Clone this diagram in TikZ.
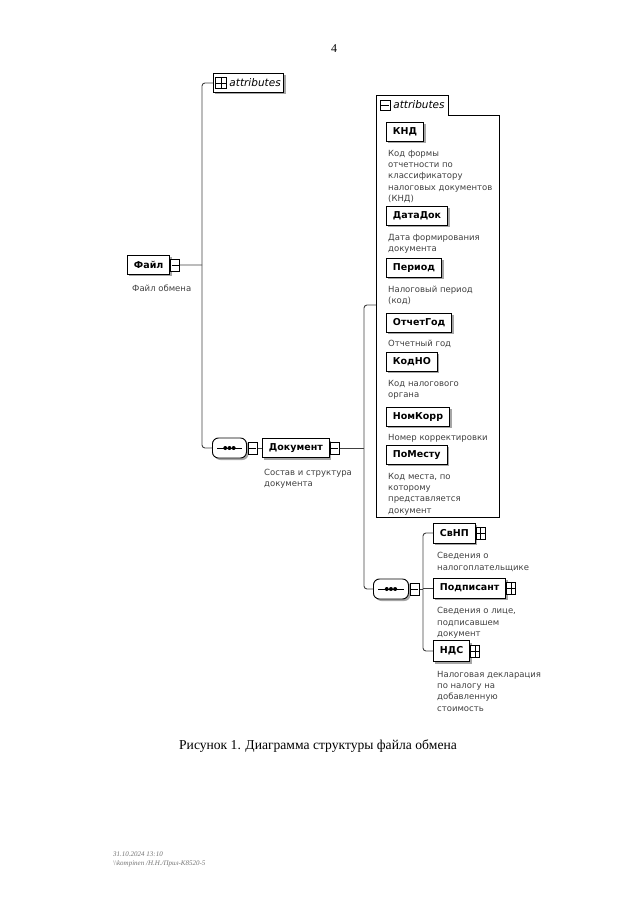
\documentclass[tikz,border=0pt]{standalone}
\usepackage{fontspec}
\setmainfont{Liberation Serif}
\newfontfamily\xsdfont{DejaVu Sans}
\usetikzlibrary{positioning,shadows}

\begin{document}
\begin{tikzpicture}[x=1pt,y=-1pt,node distance=5pt]
	  \tikzstyle{elem}=[rectangle,line width=0.9pt,draw=black,fill=white,
				  font=\xsdfont\bfseries\fontsize{9.5}{11}\selectfont,
				  minimum height=19pt,inner xsep=6.5pt,inner ysep=0pt,
				  drop shadow={shadow xshift=2pt,shadow yshift=-2pt,fill=black!35,opacity=1}]
	  \tikzstyle{mbox}=[rectangle,line width=0.7pt,draw=black,fill=white,minimum width=9pt,minimum height=12pt,inner sep=0pt,
				  path picture={\draw[line width=0.7pt] ([xshift=1pt]path picture bounding box.west) -- ([xshift=-1pt]path picture bounding box.east);}]
	  \tikzstyle{pbox}=[rectangle,line width=0.7pt,draw=black,fill=white,minimum width=9pt,minimum height=12pt,inner sep=0pt,
				  path picture={\draw[line width=0.7pt] (path picture bounding box.west) -- (path picture bounding box.east);
				                \draw[line width=0.7pt] (path picture bounding box.north) -- (path picture bounding box.south);}]
	  \tikzstyle{seq}=[rectangle,rounded corners=6pt,line width=0.9pt,draw=black,fill=white,
				  minimum width=34pt,minimum height=20pt,inner sep=0pt,
				  drop shadow={shadow xshift=2pt,shadow yshift=-2pt,fill=black!35,opacity=1}]
	  \tikzstyle{note}=[font=\xsdfont\fontsize{8.5}{11.3}\selectfont,text=black!75,align=left,inner sep=0pt]
	  \tikzstyle{link}=[line width=0.9pt,draw=black!75]

		% root element and its two children
		\node[elem,font=\xsdfont\itshape\fontsize{10.5}{12}\selectfont,anchor=north west,inner xsep=3pt] (atr) at (213,73) {\hspace{13pt}attributes};
		\node[pbox,minimum width=11pt,minimum height=11pt,right=2pt of atr.west] (atrp) {};

		\node[elem,anchor=north west] (f1) at (127,255) {Файл};
		\node[mbox,right=0pt of f1] (f1m) {};
		\node[note,below=10pt of f1.south west,anchor=north west,xshift=5pt] (d0) {Файл обмена};

		\node[seq,anchor=west] (s1) at (212,448) {};
		\node[mbox,right=1pt of s1] (s1m) {};
		\node[elem,anchor=west] (doc) at (262,448) {Документ};
		\node[mbox,right=0pt of doc] (dm) {};
		\node[note,below=11pt of doc.south west,anchor=north west,xshift=2pt] (d1) {Состав и структура\\документа};

		% attribute group of Документ
		\draw[line width=0.8pt,fill=white] (376,95) -- (448,95) -- (448,115) -- (499,115) -- (499,517) -- (376,517) -- cycle;
		\node[mbox,minimum width=10pt,minimum height=10pt,anchor=west] (gm) at (380,105) {};
		\node[font=\xsdfont\itshape\fontsize{10.5}{12}\selectfont,right=2.5pt of gm,inner sep=0pt] (gt) {attributes};

		\node[elem,anchor=north west] (a1) at (386,122) {КНД};
		\node[note,below=8pt of a1.south west,anchor=north west,xshift=2pt] (n1) {Код формы\\отчетности по\\классификатору\\налоговых документов\\(КНД)};
		\node[elem,anchor=north west] (a2) at (386,206) {ДатаДок};
		\node[note,below=8pt of a2.south west,anchor=north west,xshift=2pt] (n2) {Дата формирования\\документа};
		\node[elem,anchor=north west] (a3) at (386,258) {Период};
		\node[note,below=8pt of a3.south west,anchor=north west,xshift=2pt] (n3) {Налоговый период\\(код)};
		\node[elem,anchor=north west] (a4) at (386,313) {ОтчетГод};
		\node[note,below=7pt of a4.south west,anchor=north west,xshift=2pt] (n4) {Отчетный год};
		\node[elem,anchor=north west] (a5) at (386,352) {КодНО};
		\node[note,below=8pt of a5.south west,anchor=north west,xshift=2pt] (n5) {Код налогового\\органа};
		\node[elem,anchor=north west] (a6) at (386,407) {НомКорр};
		\node[note,below=7pt of a6.south west,anchor=north west,xshift=2pt] (n6) {Номер корректировки};
		\node[elem,anchor=north west] (a7) at (386,445) {ПоМесту};
		\node[note,below=8pt of a7.south west,anchor=north west,xshift=2pt] (n7) {Код места, по\\которому\\представляется\\документ};

		% child sequence of Документ
		\node[seq,anchor=west,minimum width=35pt] (s2) at (373,589) {};
		\node[mbox,right=1pt of s2] (s2m) {};
		\node[elem,anchor=west,minimum height=20pt] (e1) at (433,533) {СвНП};
		\node[pbox,right=0pt of e1] (e1p) {};
		\node[note,below=9pt of e1.south west,anchor=north west,xshift=4pt] (m1) {Сведения о\\налогоплательщике};
		\node[elem,anchor=west,minimum height=20pt] (e2) at (433,588) {Подписант};
		\node[pbox,right=0pt of e2] (e2p) {};
		\node[note,below=9pt of e2.south west,anchor=north west,xshift=4pt] (m2) {Сведения о лице,\\подписавшем\\документ};
		\node[elem,anchor=west,minimum height=21pt] (e3) at (433,651) {НДС};
		\node[pbox,right=0pt of e3] (e3p) {};
		\node[note,below=9pt of e3.south west,anchor=north west,xshift=4pt] (m3) {Налоговая декларация\\по налогу на\\добавленную\\стоимость};

		% the dots of both sequences
		\foreach \s in {s1,s2} {
			\draw[thin] ([xshift=5pt]\s.west) -- ([xshift=-5pt]\s.east);
			\foreach \d in {-4.2,0,4.2}
				\fill ([xshift=\d pt]\s.center) circle (2pt);
		}

		% connectors
		\coordinate (j1) at (202,265);
		\coordinate (j2) at (364,448);
		\coordinate (j3) at (423,589);
		\coordinate (g1) at (376,305);
		\draw[link,rounded corners=3pt] (atr.west) -| (j1) |- (s1.west);
		\draw[link] (f1m.east) -- (j1);
		\draw[link] (s1m.east) -- (doc.west);
		\draw[link] (dm.east) -- (j2);
		\draw[link,rounded corners=3pt] (g1) -| (j2) |- (s2.west);
		\draw[link] (s2m.east) -- (j3);
		\draw[link,rounded corners=3pt] (e1.west) -| (j3) |- (e3.west);
		\draw[link] (e2.west) -- (e2.west -| j3);

		% page texts
		\node[font=\fontsize{12}{14}\selectfont] (pg) at (334,49) {4};
		\node[font=\fontsize{13.6}{16}\selectfont] (cap) at (318,746) {Рисунок 1. Диаграмма структуры файла обмена};
		\node[font=\itshape\fontsize{7}{9}\selectfont,text=black!55,align=left,anchor=north west,inner sep=0pt] (ft) at (113,852) {31.10.2024 13:10\\\textbackslash\textbackslash kompinen /Н.Н./Прил-К8520-5};

	\useasboundingbox (0,0) rectangle (640,903);
	\end{tikzpicture}
\end{document}
